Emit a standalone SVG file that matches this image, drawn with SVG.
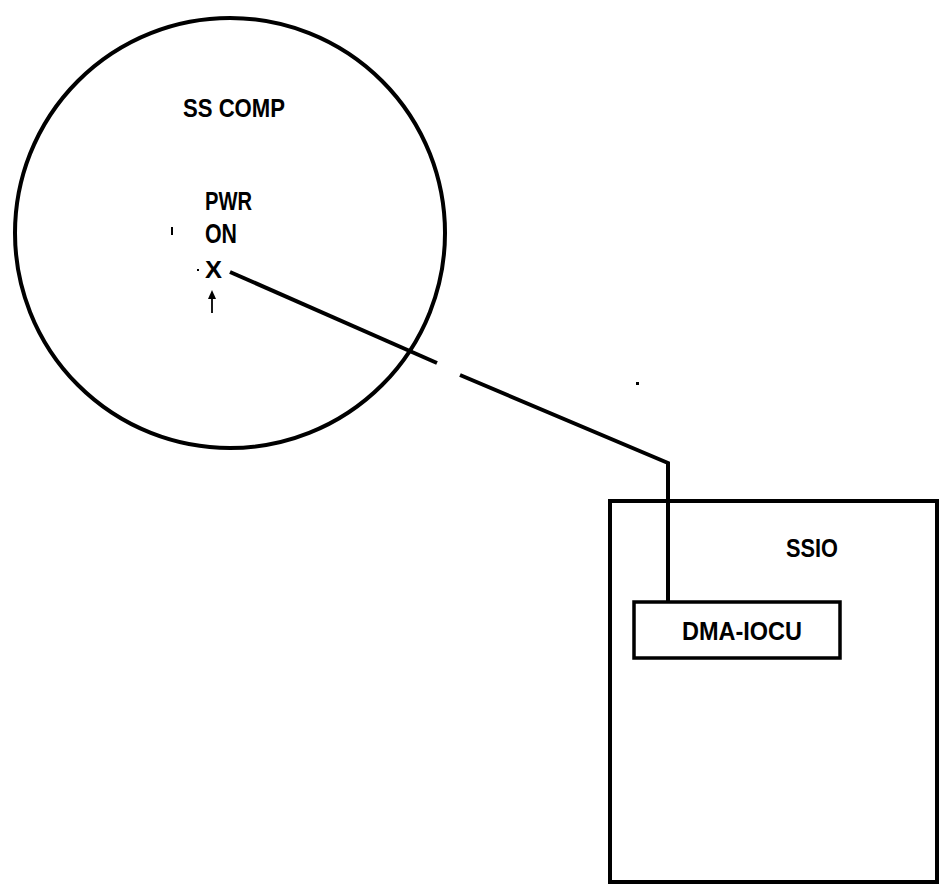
<svg xmlns="http://www.w3.org/2000/svg" width="945" height="888" viewBox="0 0 945 888">
<style>
.t{font-family:"Liberation Sans",Arial,sans-serif;font-weight:bold;fill:#000}
.s{fill:none;stroke:#000;stroke-width:4}
.w{fill:#fff;stroke:#000;stroke-width:3.5}
</style>
<rect width="945" height="888" fill="#fff"/>
<g id="ss-comp">
<circle class="s" cx="230" cy="233" r="215"/>
<text class="t" x="183" y="117" font-size="25" textLength="102" lengthAdjust="spacingAndGlyphs">SS COMP</text>
<text class="t" x="205" y="210" font-size="25" textLength="47" lengthAdjust="spacingAndGlyphs">PWR</text>
<text class="t" x="205" y="243" font-size="27" textLength="32" lengthAdjust="spacingAndGlyphs">ON</text>
<text class="t" x="205" y="278" font-size="24" textLength="17" lengthAdjust="spacingAndGlyphs">X</text>
<path d="M212,295 V313" stroke="#000" stroke-width="1.8" fill="none"/>
<path d="M212,290 L208,299 L216,299 Z" fill="#000"/>
<rect x="171" y="227" width="2" height="8" fill="#000"/>
<rect x="197" y="269" width="2" height="2" fill="#000"/>
</g>
<g id="ssio">
<rect class="s" x="610" y="501" width="327" height="381"/>
<text class="t" x="786" y="557" font-size="25" textLength="52" lengthAdjust="spacingAndGlyphs">SSIO</text>
</g>
<g id="connectors">
<polyline class="s" stroke-width="4.5" points="230,272 437,363"/>
<polyline class="s" stroke-width="4.5" points="460,375 668,463 668,603"/>
</g>
<g id="dma-iocu">
<rect class="w" x="634" y="602" width="206" height="56"/>
<text class="t" x="682" y="640" font-size="25" textLength="120" lengthAdjust="spacingAndGlyphs">DMA-IOCU</text>
</g>
<rect x="636" y="382" width="3" height="3" fill="#000"/>
</svg>
